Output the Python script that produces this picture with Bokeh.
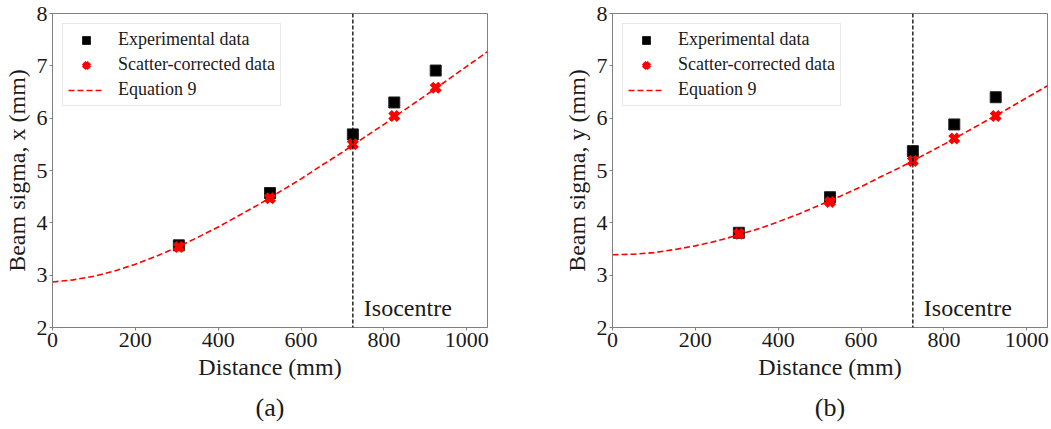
from bokeh.plotting import figure
from bokeh.layouts import row
from bokeh.models import Span, Label, Title, Legend, LegendItem, FixedTicker
from bokeh.embed import file_html
from bokeh.resources import INLINE

# ---- data ----
distance = [305, 525, 725, 825, 925]
exp_x = [3.57, 4.57, 5.69, 6.30, 6.91]
corr_x = [3.54, 4.47, 5.50, 6.04, 6.58]
exp_y = [3.81, 4.49, 5.37, 5.88, 6.40]
corr_y = [3.79, 4.40, 5.18, 5.61, 6.04]

curve_z = [0, 50, 100, 150, 200, 250, 300, 350, 400, 450, 500, 550,
           600, 650, 700, 750, 800, 850, 900, 950, 1000, 1050]
curve_x = [2.87, 2.91, 2.98, 3.08, 3.21, 3.36, 3.53, 3.72, 3.92, 4.14, 4.36,
           4.60, 4.84, 5.10, 5.35, 5.62, 5.88, 6.16, 6.43, 6.71, 6.99, 7.27]
curve_y = [3.39, 3.40, 3.43, 3.49, 3.56, 3.65, 3.76, 3.88, 4.02, 4.17, 4.34,
           4.51, 4.69, 4.89, 5.08, 5.29, 5.50, 5.72, 5.94, 6.16, 6.39, 6.62]

isocentre = 725
x_ticks = [0, 200, 400, 600, 800, 1000]
y_ticks = [2, 3, 4, 5, 6, 7, 8]

FONT = "'Liberation Serif', serif"
AXC = "#808080"
TXT = "#1a1a1a"


def make(exp, corr, curve, ylabel, caption, width, left, right):
    p = figure(width=width, height=429, x_range=(0, 1050), y_range=(2, 8),
               output_backend="svg", toolbar_location=None,
               min_border_left=left, min_border_right=right,
               min_border_top=13, min_border_bottom=10)
    p.grid.visible = False
    p.outline_line_color = AXC
    p.outline_line_width = 1
    p.xaxis.ticker = FixedTicker(ticks=x_ticks)
    p.yaxis.ticker = FixedTicker(ticks=y_ticks)
    for ax in (p.xaxis[0], p.yaxis[0]):
        ax.axis_line_color = AXC
        ax.major_tick_line_color = AXC
        ax.minor_tick_line_color = None
        ax.major_tick_out = 3
        ax.major_tick_in = 0
        ax.major_label_text_font = FONT
        ax.major_label_text_font_size = "22px"
        ax.major_label_text_color = TXT
        ax.axis_label_text_font = FONT
        ax.axis_label_text_font_size = "24px"
        ax.axis_label_text_font_style = "normal"
        ax.axis_label_text_color = TXT
        ax.major_label_standoff = 2
        ax.axis_label_standoff = 4
    p.xaxis.axis_label = "Distance (mm)"
    p.yaxis.axis_label = ylabel

    p.add_layout(Span(location=isocentre, dimension="height", line_color="black",
                      line_dash="4 2", line_width=1.3))

    r_sq = p.scatter(distance, exp, marker="square", size=11, fill_color="black",
                     line_color="#222222")
    r_x = p.scatter(distance, corr, marker="x", size=12, line_color="red", line_width=5)
    r_l = p.line(curve_z, curve, line_color="red", line_dash="6 3", line_width=1.6)

    p.add_layout(Label(x=isocentre, y=2.38, x_offset=11, text="Isocentre",
                       text_font=FONT, text_font_size="24px", text_color=TXT,
                       text_baseline="alphabetic"))

    leg = Legend(items=[LegendItem(label="Experimental data", renderers=[r_sq]),
                        LegendItem(label="Scatter-corrected data", renderers=[r_x]),
                        LegendItem(label="Equation 9", renderers=[r_l])],
                 location="top_left", margin=10, padding=5, spacing=4,
                 glyph_width=36, glyph_height=20, label_height=20,
                 label_standoff=14, label_text_font=FONT,
                 label_text_font_size="18px", label_text_color=TXT,
                 border_line_color="#d0d0d0", border_line_width=1,
                 background_fill_alpha=0.8)
    p.add_layout(leg)

    p.add_layout(Title(text=caption, align="center", text_font=FONT,
                       text_font_size="26px", text_font_style="normal",
                       text_color=TXT, standoff=16, offset=-7), "below")
    return p


p1 = make(exp_x, corr_x, curve_x, "Beam sigma, x (mm)", "(a)", 560, 52, 73)
p2 = make(exp_y, corr_y, curve_y, "Beam sigma, y (mm)", "(b)", 491, 52, 4)

layout = row(p1, p2)
open("out.html", "w").write(file_html(layout, INLINE))
